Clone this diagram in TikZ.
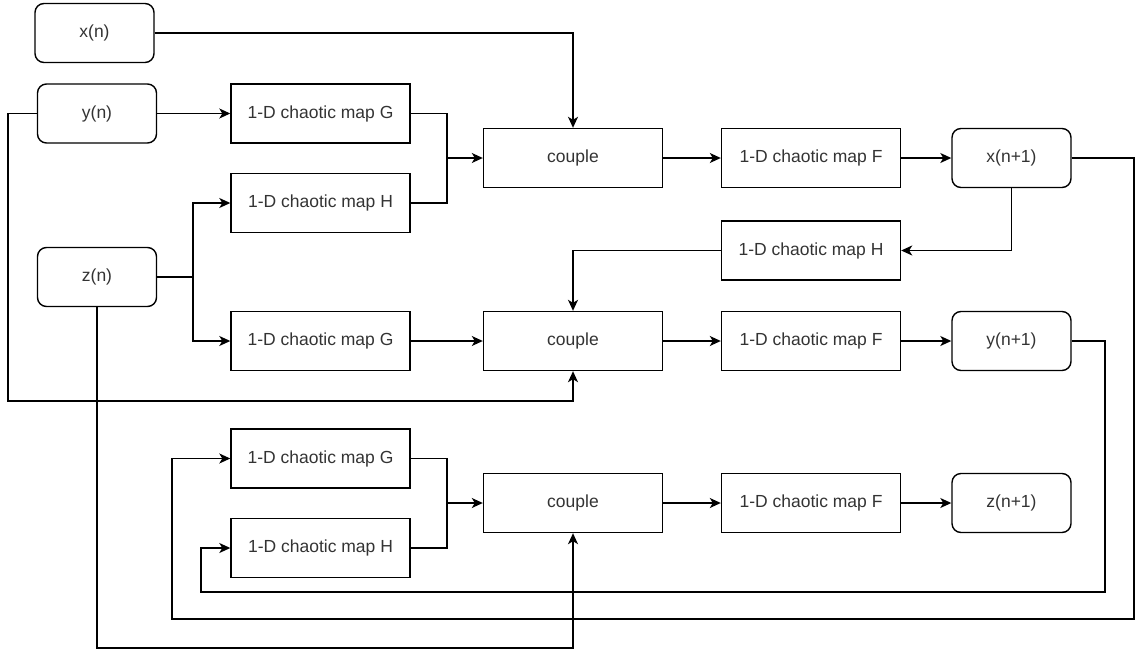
\documentclass[tikz,border=0pt]{standalone}
\usepackage{fontspec}
\setmainfont{Liberation Sans}
\usetikzlibrary{arrows.meta}
\definecolor{txt}{RGB}{51,51,51}
\begin{document}
\begin{tikzpicture}[x=1pt,y=-1pt,
  box/.style={draw=black,line width=1.4pt,rectangle,minimum width=179pt,minimum height=59pt,inner sep=0pt,text=txt,font=\fontsize{17.5}{20}\selectfont},
  rbox/.style={box,minimum width=119pt,rounded corners=9pt},
  conn/.style={draw=black,line width=1.4pt},
  arr/.style={conn,-{Stealth[length=11pt,width=10pt,inset=3pt]}}]
\useasboundingbox (0,0) rectangle (1135,653);
% nodes
\node[rbox] (xn) at (94.5,33) {x(n)};
\node[rbox] (yn) at (97,113.5) {y(n)};
\node[rbox] (zn) at (97,277) {z(n)};
\node[box] (G1) at (320.5,113.5) {1-D chaotic map G};
\node[box] (H1) at (320.5,203) {1-D chaotic map H};
\node[box] (C1) at (573,158) {couple};
\node[box] (F1) at (811,158) {1-D chaotic map F};
\node[rbox] (X1) at (1011.5,158) {x(n+1)};
\node[box] (H2) at (811,250.5) {1-D chaotic map H};
\node[box] (G2) at (320.5,341) {1-D chaotic map G};
\node[box] (C2) at (573,341) {couple};
\node[box] (F2) at (811,341) {1-D chaotic map F};
\node[rbox] (Y1) at (1011.5,341) {y(n+1)};
\node[box] (G3) at (320.5,458.5) {1-D chaotic map G};
\node[box] (H3) at (320.5,548) {1-D chaotic map H};
\node[box] (C3) at (573,503) {couple};
\node[box] (F3) at (811,503) {1-D chaotic map F};
\node[rbox] (Z1) at (1011.5,503) {z(n+1)};
% coordinates
\coordinate (j1) at (447,158);
\coordinate (j3) at (447,503);
\coordinate (zb) at (193,277);
\coordinate (yl) at (8,401);
\coordinate (yr) at (1105,592);
\coordinate (yl2) at (201,592);
\coordinate (xr) at (1134,619);
\coordinate (xl2) at (172,619);
\coordinate (zl) at (97,648);
% row 1
\draw[arr] (xn.east) -| (C1.north);
\draw[arr] (yn.east) -- (G1.west);
\draw[conn] (G1.east) -| (j1);
\draw[conn] (H1.east) -| (j1);
\draw[arr] (j1) -- (C1.west);
\draw[arr] (C1) -- (F1);
\draw[arr] (F1) -- (X1);
% z(n) branches
\draw[conn] (zn.east) -- (zb);
\draw[arr] (zb) |- (H1.west);
\draw[arr] (zb) |- (G2.west);
% row 2
\draw[arr] (X1.south) |- (H2.east);
\draw[arr] (H2.west) -| (C2.north);
\draw[arr] (yn.west) -| (yl) -| (C2.south);
\draw[arr] (G2) -- (C2);
\draw[arr] (C2) -- (F2);
\draw[arr] (F2) -- (Y1);
% row 3
\draw[arr] (Y1.east) -| (yr) -- (yl2) |- (H3.west);
\draw[arr] (X1.east) -| (xr) -- (xl2) |- (G3.west);
\draw[arr] (zn.south) -- (zl) -| (C3.south);
\draw[conn] (G3.east) -| (j3);
\draw[conn] (H3.east) -| (j3);
\draw[arr] (j3) -- (C3.west);
\draw[arr] (C3) -- (F3);
\draw[arr] (F3) -- (Z1);
\end{tikzpicture}
\end{document}
